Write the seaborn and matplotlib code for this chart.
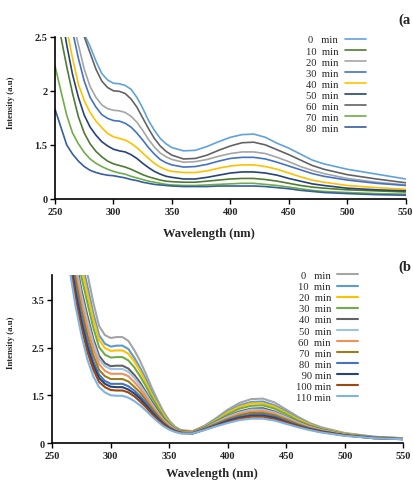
import numpy as np
import pandas as pd
import matplotlib
matplotlib.use("Agg")
import matplotlib.pyplot as plt
import seaborn as sns

# ---- panel (a) data: wavelength grid (nm) and one intensity list per time ----
WL_A = [250, 255, 260, 265, 270, 275, 280, 285, 290, 295, 300, 305, 310, 315, 320, 325, 330,
        335, 340, 345, 350, 360, 370, 380, 390, 400, 410, 420, 430, 440, 450, 460, 470,
        480, 500, 525, 550]

a_0 = [4.6, 4.3, 4.0, 3.7, 3.4, 3.05, 2.82, 2.55, 2.32, 2.20, 2.14, 2.13, 2.10, 2.03, 1.88,
       1.68, 1.45, 1.27, 1.12, 1.02, 0.95, 0.89, 0.90, 0.97, 1.06, 1.14, 1.19, 1.20, 1.14,
       1.03, 0.94, 0.83, 0.72, 0.65, 0.55, 0.46, 0.37]
a_10 = [3.6, 3.0, 2.45, 1.95, 1.52, 1.22, 1.02, 0.88, 0.78, 0.70, 0.65, 0.62, 0.59, 0.55, 0.50,
        0.45, 0.41, 0.38, 0.35, 0.33, 0.32, 0.31, 0.31, 0.33, 0.35, 0.37, 0.38, 0.38, 0.36,
        0.33, 0.29, 0.25, 0.22, 0.20, 0.17, 0.15, 0.13]
a_20 = [4.4, 4.0, 3.7, 3.3, 2.85, 2.40, 2.08, 1.88, 1.74, 1.67, 1.64, 1.63, 1.60, 1.53, 1.42,
        1.27, 1.10, 0.96, 0.85, 0.78, 0.73, 0.68, 0.69, 0.73, 0.79, 0.84, 0.87, 0.87, 0.84,
        0.77, 0.69, 0.60, 0.53, 0.47, 0.38, 0.31, 0.26]
a_30 = [4.2, 3.9, 3.5, 3.1, 2.6, 2.18, 1.88, 1.70, 1.56, 1.49, 1.45, 1.44, 1.40, 1.33, 1.22,
        1.09, 0.95, 0.83, 0.73, 0.67, 0.63, 0.59, 0.60, 0.64, 0.70, 0.75, 0.77, 0.77, 0.74,
        0.68, 0.61, 0.54, 0.47, 0.42, 0.35, 0.29, 0.25]
a_40 = [4.5, 3.8, 3.15, 2.6, 2.12, 1.82, 1.60, 1.44, 1.32, 1.21, 1.15, 1.12, 1.09, 1.03, 0.95,
        0.85, 0.75, 0.66, 0.59, 0.54, 0.51, 0.49, 0.49, 0.52, 0.57, 0.61, 0.63, 0.63, 0.60,
        0.55, 0.48, 0.41, 0.35, 0.31, 0.25, 0.21, 0.18]
a_50 = [4.2, 3.5, 2.85, 2.3, 1.88, 1.55, 1.33, 1.18, 1.06, 0.98, 0.92, 0.89, 0.87, 0.82, 0.75,
        0.66, 0.58, 0.51, 0.46, 0.42, 0.40, 0.37, 0.37, 0.40, 0.44, 0.48, 0.50, 0.50, 0.48,
        0.44, 0.38, 0.33, 0.28, 0.25, 0.20, 0.17, 0.15]
a_60 = [4.5, 4.2, 3.9, 3.6, 3.3, 3.0, 2.70, 2.40, 2.18, 2.06, 2.00, 1.99, 1.95, 1.85, 1.70,
        1.50, 1.30, 1.12, 0.98, 0.88, 0.81, 0.74, 0.75, 0.81, 0.90, 0.98, 1.04, 1.05, 1.00,
        0.91, 0.82, 0.72, 0.62, 0.55, 0.45, 0.37, 0.30]
a_70 = [2.46, 2.0, 1.55, 1.22, 1.02, 0.86, 0.74, 0.66, 0.60, 0.55, 0.51, 0.48, 0.46, 0.42, 0.39,
        0.36, 0.33, 0.31, 0.29, 0.27, 0.26, 0.25, 0.25, 0.26, 0.27, 0.28, 0.29, 0.29, 0.27,
        0.25, 0.22, 0.19, 0.16, 0.14, 0.12, 0.10, 0.09]
a_80 = [1.66, 1.33, 1.00, 0.83, 0.70, 0.60, 0.53, 0.49, 0.46, 0.44, 0.43, 0.41, 0.39, 0.36, 0.34,
        0.31, 0.29, 0.27, 0.26, 0.25, 0.24, 0.23, 0.23, 0.23, 0.24, 0.24, 0.24, 0.24, 0.23,
        0.21, 0.19, 0.16, 0.14, 0.12, 0.10, 0.08, 0.07]

LABELS_A = ["0   min", "10  min", "20  min", "30  min", "40  min",
            "50  min", "60  min", "70  min", "80  min"]
COLORS_A = ["#5fa2dd", "#4f7b33", "#a5a5a5", "#4472c4", "#ffc000",
            "#264478", "#636363", "#70ad47", "#355f9e"]
SERIES_A = [a_0, a_10, a_20, a_30, a_40, a_50, a_60, a_70, a_80]

# ---- panel (b) data ----
WL_B = [265, 270, 275, 280, 285, 290, 295, 300, 305, 310, 315, 320, 325, 330, 335, 340,
        345, 350, 355, 360, 370, 380, 390, 400, 410, 420, 430, 440, 450, 460, 470, 480,
        500, 525, 550]

b_0 = [5.5, 4.8, 4.1, 3.55, 2.95, 2.45, 2.26, 2.20, 2.22, 2.22, 2.14, 1.95, 1.72, 1.45, 1.16,
       0.90, 0.66, 0.47, 0.34, 0.27, 0.25, 0.36, 0.52, 0.70, 0.84, 0.92, 0.93, 0.85, 0.70,
       0.55, 0.42, 0.33, 0.21, 0.13, 0.10]
b_10 = [5.22, 4.52, 3.83, 3.29, 2.72, 2.26, 2.08, 2.02, 2.04, 2.04, 1.97, 1.79, 1.58, 1.34,
        1.07, 0.83, 0.61, 0.44, 0.32, 0.26, 0.24, 0.35, 0.50, 0.66, 0.79, 0.86, 0.87, 0.79,
        0.66, 0.52, 0.40, 0.31, 0.20, 0.13, 0.10]
b_20 = [5.07, 4.36, 3.68, 3.14, 2.60, 2.16, 1.99, 1.93, 1.94, 1.94, 1.87, 1.71, 1.51, 1.27,
        1.02, 0.80, 0.59, 0.43, 0.31, 0.25, 0.24, 0.34, 0.48, 0.64, 0.76, 0.83, 0.83, 0.76,
        0.63, 0.50, 0.39, 0.30, 0.20, 0.12, 0.10]
b_30 = [4.85, 4.14, 3.47, 2.94, 2.42, 2.01, 1.85, 1.79, 1.80, 1.80, 1.73, 1.59, 1.40, 1.19,
        0.96, 0.75, 0.55, 0.41, 0.30, 0.25, 0.23, 0.33, 0.46, 0.60, 0.72, 0.78, 0.79, 0.72,
        0.60, 0.47, 0.37, 0.29, 0.19, 0.12, 0.09]
b_40 = [4.57, 3.85, 3.20, 2.67, 2.19, 1.83, 1.67, 1.61, 1.62, 1.62, 1.56, 1.43, 1.27, 1.07,
        0.87, 0.68, 0.51, 0.38, 0.29, 0.24, 0.23, 0.32, 0.44, 0.56, 0.66, 0.72, 0.73, 0.66,
        0.55, 0.44, 0.35, 0.28, 0.18, 0.12, 0.09]
b_50 = [4.46, 3.74, 3.09, 2.57, 2.11, 1.75, 1.61, 1.55, 1.55, 1.55, 1.49, 1.37, 1.21, 1.03,
        0.83, 0.65, 0.49, 0.37, 0.28, 0.23, 0.22, 0.31, 0.43, 0.55, 0.64, 0.70, 0.70, 0.64,
        0.54, 0.43, 0.34, 0.27, 0.18, 0.11, 0.09]
b_60 = [4.31, 3.58, 2.94, 2.42, 1.98, 1.65, 1.51, 1.45, 1.45, 1.45, 1.40, 1.28, 1.14, 0.97,
        0.78, 0.62, 0.47, 0.35, 0.27, 0.23, 0.22, 0.30, 0.41, 0.52, 0.61, 0.66, 0.67, 0.61,
        0.51, 0.41, 0.33, 0.26, 0.17, 0.11, 0.09]
b_70 = [4.14, 3.41, 2.78, 2.26, 1.84, 1.53, 1.40, 1.34, 1.34, 1.34, 1.29, 1.18, 1.06, 0.90,
        0.73, 0.58, 0.44, 0.33, 0.26, 0.22, 0.21, 0.30, 0.40, 0.50, 0.58, 0.63, 0.63, 0.58,
        0.49, 0.39, 0.31, 0.25, 0.17, 0.11, 0.09]
b_80 = [3.99, 3.25, 2.63, 2.12, 1.71, 1.43, 1.30, 1.24, 1.24, 1.24, 1.19, 1.10, 0.98, 0.84,
        0.68, 0.54, 0.41, 0.32, 0.25, 0.21, 0.21, 0.29, 0.38, 0.48, 0.55, 0.59, 0.60, 0.55,
        0.46, 0.37, 0.30, 0.24, 0.16, 0.11, 0.08]
b_90 = [3.88, 3.13, 2.52, 2.01, 1.63, 1.36, 1.24, 1.18, 1.17, 1.17, 1.12, 1.04, 0.93, 0.79,
        0.65, 0.52, 0.40, 0.31, 0.25, 0.21, 0.20, 0.28, 0.37, 0.46, 0.53, 0.57, 0.57, 0.53,
        0.44, 0.36, 0.29, 0.24, 0.16, 0.10, 0.08]
b_100 = [3.77, 3.02, 2.41, 1.91, 1.54, 1.28, 1.17, 1.11, 1.10, 1.10, 1.06, 0.98, 0.87, 0.75,
         0.61, 0.49, 0.38, 0.30, 0.24, 0.21, 0.20, 0.28, 0.36, 0.44, 0.51, 0.55, 0.55, 0.50,
         0.43, 0.35, 0.28, 0.23, 0.16, 0.10, 0.08]
b_110 = [3.6, 2.85, 2.25, 1.75, 1.40, 1.17, 1.06, 1.00, 0.99, 0.99, 0.95, 0.88, 0.79, 0.68,
         0.56, 0.45, 0.35, 0.28, 0.23, 0.20, 0.20, 0.27, 0.35, 0.42, 0.48, 0.51, 0.51, 0.47,
         0.40, 0.33, 0.27, 0.22, 0.15, 0.10, 0.08]

LABELS_B = ["0   min", "10  min", "20  min", "30  min", "40  min", "50  min",
            "60  min", "70  min", "80  min", " 90 min", "100 min", "110 min"]
COLORS_B = ["#a5a5a5", "#5b9bd5", "#ffc000", "#70ad47", "#636363", "#9dc3e6",
            "#f0915a", "#9c7d1a", "#4472c4", "#264478", "#9e480e", "#7fb2e5"]
SERIES_B = [b_0, b_10, b_20, b_30, b_40, b_50, b_60, b_70, b_80, b_90, b_100, b_110]

# the printed y tick labels are evenly spaced but not linear, so ticks sit on 0,1,2,3
YTICKS_A = ["0", "1.5", "2", "2.5"]
YTICKS_B = ["0", "1.5", "2.5", "3.5"]
XTICKS = [250, 300, 350, 400, 450, 500, 550]


def long_frame(wl, series, labels):
    parts = []
    for vals, lab in zip(series, labels):
        parts.append(pd.DataFrame({"wl": wl, "y": vals, "t": lab}))
    return pd.concat(parts, ignore_index=True)


def draw_panel(ax, df, labels, colors, yticks, ylim, lw, leg_xy, xlab_xy, ylab_x):
    sns.lineplot(data=df, x="wl", y="y", hue="t", hue_order=labels, palette=colors,
                 estimator=None, sort=False, linewidth=lw, ax=ax)
    ax.set_xlim(250, 550)
    ax.set_ylim(*ylim)
    ax.set_xticks(XTICKS)
    ax.set_xticklabels([str(v) for v in XTICKS], fontweight="bold", fontsize=7.5)
    ax.set_yticks(range(len(yticks)))
    ax.set_yticklabels(yticks, fontweight="bold", fontsize=7.5)
    ax.tick_params(axis="both", direction="out", length=3.5, width=1, color="black", pad=2)
    for s in ["top", "right"]:
        ax.spines[s].set_visible(False)
    for s in ["left", "bottom"]:
        ax.spines[s].set_linewidth(1.2)
        ax.spines[s].set_color("black")
    ax.set_xlabel("Wavelength (nm)", fontweight="bold", fontsize=9)
    ax.xaxis.set_label_coords(*xlab_xy)
    ax.xaxis.label.set_va("center")
    ax.set_ylabel("Intensity (a.u)", fontweight="bold", fontsize=6.3)
    ax.yaxis.set_label_coords(ylab_x, 0.6)
    handles, _ = ax.get_legend_handles_labels()
    ax.legend(handles, labels, loc="upper left", bbox_to_anchor=leg_xy, markerfirst=False,
              frameon=False, fontsize=7.6, handlelength=2.0, handletextpad=0.6,
              labelspacing=0.16, borderaxespad=0, borderpad=0)


sns.set_style("ticks")
plt.rcParams["font.family"] = ["Liberation Serif", "DejaVu Serif"]

fig = plt.figure(figsize=(4.14, 4.81), dpi=100)
ax_a = fig.add_axes([0.1329, 0.5842, 0.847, 0.3374])
ax_b = fig.add_axes([0.1263, 0.0769, 0.8478, 0.3493])

draw_panel(ax_a, long_frame(WL_A, SERIES_A, LABELS_A), LABELS_A, COLORS_A,
           YTICKS_A, (0, 3.0), 1.2, (0.715, 1.01), (0.438, -0.21), -0.114)
draw_panel(ax_b, long_frame(WL_B, SERIES_B, LABELS_B), LABELS_B, COLORS_B,
           YTICKS_B, (0, 3.52), 1.5, (0.694, 1.025), (0.455, -0.179), -0.106)

fig.text(0.962, 0.958, "(a", fontweight="bold", fontsize=10.5, va="center")
fig.text(0.962, 0.445, "(b", fontweight="bold", fontsize=10.5, va="center")

fig.savefig("out.png", dpi=100, facecolor="white")
